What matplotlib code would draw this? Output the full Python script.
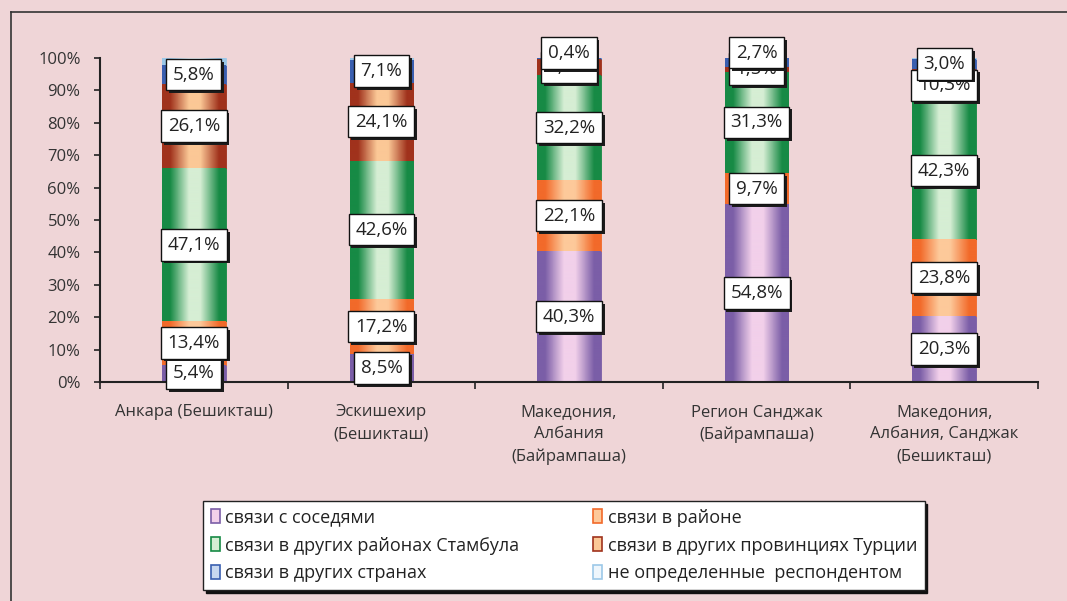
import numpy as np
import matplotlib.pyplot as plt
import matplotlib.patheffects as pe
from matplotlib.colors import LinearSegmentedColormap
from matplotlib.patches import Patch
from matplotlib.ticker import FuncFormatter, FixedLocator

plt.rcParams['font.family'] = ['Open Sans', 'DejaVu Sans']

categories = ['Анкара (Бешикташ)', 'Эскишехир\n(Бешикташ)', 'Македония,\nАлбания\n(Байрампаша)',
              'Регион Санджак\n(Байрампаша)', 'Македония,\nАлбания, Санджак\n(Бешикташ)']
series_names = ['связи с соседями', 'связи в районе', 'связи в других районах Стамбула',
                'связи в других провинциях Турции', 'связи в других странах',
                'не определенные  респондентом']
neighbours = [5.4, 8.5, 40.3, 54.8, 20.3]
district = [13.4, 17.2, 22.1, 9.7, 23.8]
istanbul = [47.1, 42.6, 32.2, 31.3, 42.3]
provinces = [26.1, 24.1, 5.0, 1.5, 10.3]
abroad = [5.8, 7.1, 0.4, 2.7, 3.0]
undetermined = [2.2, 0.5, 0.0, 0.0, 0.3]
values = [neighbours, district, istanbul, provinces, abroad, undetermined]
show_label = [True, True, True, True, True, False]

# (dark edge, light centre) for the cylinder-like shading
shades = [('#7b5ea7', '#f2d0ea'), ('#f26a2a', '#fdc99a'), ('#178a45', '#d6eed4'),
          ('#a0321c', '#fbc896'), ('#3a5fb0', '#c8d8f0'), ('#9cc8e8', '#eef6fc')]
# manual nudges (points) of overlapping labels: (category, series) -> dy
nudge = {(2, 4): 4, (3, 4): 7}

bg = '#efd5d7'

fig = plt.figure(figsize=(10.67, 6.01), dpi=100, facecolor=bg)
ax = fig.add_axes([100 / 1067, 1 - 382 / 601, 938 / 1067, 324 / 601])
ax.set_facecolor('none')

x = np.arange(len(categories))
width = 0.34
grad = np.linspace(0, 1, 64).reshape(1, -1)
bottom = np.zeros(len(categories))
bars_all = []
for i, vals in enumerate(values):
    dark, light = shades[i]
    cmap = LinearSegmentedColormap.from_list('c%d' % i, [(0, dark), (0.12, dark), (0.42, light),
                                                        (0.6, light), (0.9, dark), (1, dark)])
    bars = ax.bar(x, vals, width, bottom=bottom, color=dark, edgecolor=dark, linewidth=0.6, zorder=2)
    for b in bars:
        if b.get_height() <= 0:
            continue
        x0, y0 = b.get_x(), b.get_y()
        ax.imshow(grad, cmap=cmap, aspect='auto', zorder=2.5,
                  extent=(x0, x0 + b.get_width(), y0, y0 + b.get_height()))
    bars_all.append((bars, vals, bottom.copy()))
    bottom = bottom + np.array(vals)

shadow = [pe.SimplePatchShadow(offset=(2, -2), shadow_rgbFace='#1c1c1c', alpha=1.0), pe.Normal()]
for i, (bars, vals, bot) in enumerate(bars_all):
    if not show_label[i]:
        continue
    for j, v in enumerate(vals):
        if v <= 0:
            continue
        dy = nudge.get((j, i), 0)
        txt = ('%.1f%%' % v).replace('.', ',')
        ann = ax.annotate(txt, (x[j], bot[j] + v / 2), xytext=(0, dy), textcoords='offset points',
                          ha='center', va='center', fontsize=13.5, color='#222222', zorder=5 + i,
                          bbox=dict(boxstyle='square,pad=0.36', fc='white', ec='#111111', lw=1.0))
        ann.get_bbox_patch().set_path_effects(shadow)

ax.set_xlim(-0.5, len(categories) - 0.5)
ax.set_ylim(0, 100)
ax.set_yticks(np.arange(0, 101, 10))
ax.yaxis.set_major_formatter(FuncFormatter(lambda v, p: '%d%%' % v))
ax.set_xticks(x)
ax.set_xticklabels(categories, fontsize=12, color='#333333', linespacing=1.5, va='top')
ax.xaxis.set_minor_locator(FixedLocator(np.arange(-0.5, len(categories), 1.0)))
ax.tick_params(axis='x', which='major', length=0, pad=16)
ax.tick_params(axis='x', which='minor', length=5, width=1.2, color='#222222', direction='out')
ax.tick_params(axis='y', length=4, width=1.2, color='#222222', labelsize=12,
               labelcolor='#333333', pad=10)
for s in ['top', 'right']:
    ax.spines[s].set_visible(False)
for s in ['left', 'bottom']:
    ax.spines[s].set_color('#222222')
    ax.spines[s].set_linewidth(1.5)

# outer chart border (left and top edges visible)
fig.add_artist(plt.Line2D([11 / 1067, 11 / 1067], [0, 1 - 12 / 601], transform=fig.transFigure,
                          color='#333333', lw=1.2))
fig.add_artist(plt.Line2D([11 / 1067, 1], [1 - 12 / 601, 1 - 12 / 601], transform=fig.transFigure,
                          color='#333333', lw=1.2))

handles = [Patch(facecolor=l, edgecolor=d, linewidth=1.2) for d, l in shades]
order = [0, 2, 4, 1, 3, 5]
leg = fig.legend([handles[k] for k in order], [series_names[k] for k in order],
                 loc='upper left', bbox_to_anchor=(203 / 1067, 1 - 501 / 601),
                 ncol=2, fontsize=13, frameon=True, fancybox=False,
                 handlelength=0.5, handleheight=0.8, handletextpad=0.3, labelspacing=0.55,
                 columnspacing=4.1, borderaxespad=0, borderpad=0.42,
                 shadow={'color': '#111111', 'alpha': 1.0, 'ox': 2, 'oy': -2})
leg.get_frame().set_edgecolor('#222222')
leg.get_frame().set_linewidth(1.0)
leg.get_frame().set_facecolor('white')
for t in leg.get_texts():
    t.set_color('#222222')

plt.savefig('out.png', dpi=100, facecolor=bg)
